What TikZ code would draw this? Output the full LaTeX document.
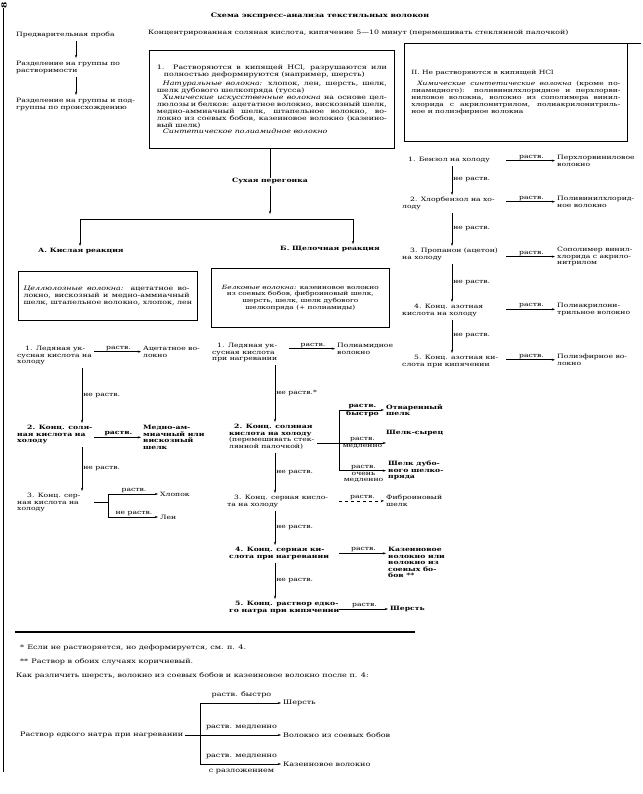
\documentclass[tikz,border=0pt]{standalone}
\usepackage{fontspec}
\setmainfont{DejaVu Serif}[FakeStretch=1.3]
\usetikzlibrary{arrows.meta,positioning,calc}
\newcommand{\txtfont}{\fontsize{5.9}{6.6}\selectfont}
\newcommand{\boxfont}{\fontsize{6.1}{6.9}\selectfont}
\newcommand{\notefont}{\fontsize{6.2}{7}\selectfont}
\newcommand{\jline}[2][230pt]{\makebox[#1][s]{#2}}
\tikzset{
    txt/.style={inner sep=0pt, align=left, font=\txtfont},
    txtb/.style={txt, font=\txtfont\bfseries},
    note/.style={inner sep=0pt, align=left, font=\notefont},
    hdr/.style={inner sep=0pt, font=\txtfont\bfseries},
    box/.style={draw, line width=0.7pt, inner sep=0pt, align=left, font=\boxfont},
    lbl/.style={inner sep=1pt, align=center, font=\txtfont},
    lblb/.style={lbl, font=\txtfont\bfseries},
    arr/.style={line width=0.6pt, -{Stealth[length=3.2pt,width=2.2pt]}},
    link/.style={line width=0.6pt},
}

\begin{document}
\begin{tikzpicture}[x=1pt,y=-1pt]
\useasboundingbox (0,0) rectangle (642,794);

% page edge
\draw[line width=1.2pt] (3.5,8) -- (3.5,772);
\node[rotate=90, inner sep=0pt, font=\fontsize{7}{7}\selectfont\bfseries] (pg) at (4,5) {8};

% heading
\node[inner sep=0pt, font=\fontsize{6.1}{8}\selectfont\bfseries] (title) at (320,16) {Схема экспресс-анализа текстильных волокон};
\node[txt, anchor=west, font=\fontsize{6.0}{7}\selectfont] (sub) at (148,33) {Концентрированная соляная кислота, кипячение 5—10 минут (перемешивать стеклянной палочкой)};

% left column
\coordinate (colP) at (76,0);
\node[txt, anchor=north west] (pre1) at (16,32) {Предварительная проба};
\node[txt, anchor=north west] (pre2) at (16,61) {Разделение на группы по\\растворимости};
\node[txt, anchor=north west] (pre3) at (16,98) {Разделение на группы и под-\\группы по происхождению};
\draw[arr, shorten <=3pt, shorten >=3pt] (pre1.south -| colP) -- (pre2.north -| colP);
\draw[arr, shorten <=3pt, shorten >=3pt] (pre2.south -| colP) -- (pre3.north -| colP);

% the two groups
\node[box, anchor=north west, minimum width=245, minimum height=98] (hclyes) at (149,50) {%
\jline{1. Растворяются в кипящей HCl, разрушаются или}\\
\hspace*{7pt}полностью деформируются (например, шерсть)\\[2.5pt]
\jline{\hspace*{6pt}\textit{Натуральные волокна:} хлопок, лен, шерсть, шелк,}\\
шелк дубового шелкопряда (тусса)\\
\jline{\hspace*{6pt}\textit{Химические искусственные волокна} на основе цел-}\\
\jline{люлозы и белков: ацетатное волокно, вискозный шелк,}\\
\jline{медно-аммиачный шелк, штапельное волокно, во-}\\
\jline{локно из соевых бобов, казеиновое волокно (казеино-}\\
вый шелк)\\
\hspace*{6pt}\textit{Синтетическое полиамидное волокно}};
\draw[line width=1.3pt] (hclyes.south west) -- (hclyes.south east);

\node[box, anchor=north west, minimum width=223, minimum height=98, font=\fontsize{5.8}{6.9}\selectfont] (hclno) at (404,43) {%
II. Не растворяются в кипящей HCl\\[4pt]
\jline[209pt]{\hspace*{6pt}\textit{Химические синтетические волокна} (кроме по-}\\
\jline[209pt]{лиамидного): поливинилхлоридное и перхлорви-}\\
\jline[209pt]{ниловое волокна, волокно из сополимера винил-}\\
\jline[209pt]{хлорида с акрилонитрилом, полиакрилонитриль-}\\
ное и полиэфирное волокна};
\draw[line width=0.9pt] (hclno.north east) -- ++(13,0);

% dry distillation
\node[hdr] (dry) at (270,181) {Сухая перегонка};
\coordinate (lt) at (80,219);
\coordinate (rt) at (353,219);
\draw[link] (hclyes.south -| dry.north) -- (dry.north);
\draw[arr, shorten <=2pt, shorten >=5pt] (dry.south) -- (dry.south |- lt);
\draw[link] (lt) -- (rt);
\node[hdr, anchor=west] (acid) at (38,251) {А. Кислая реакция};
\node[hdr, anchor=west] (alk) at (280,249) {Б. Щелочная реакция};
\draw[arr, shorten >=2pt] (lt) -- (lt |- acid.north);
\draw[arr, shorten >=2pt] (rt) -- (rt |- alk.north);

\node[box, anchor=north west, minimum width=179, minimum height=49] (cell) at (18,271) {%
\jline[166pt]{\textit{Целлюлозные волокна:} ацетатное во-}\\
\jline[166pt]{локно, вискозный и медно-аммиачный}\\
шелк, штапельное волокно, хлопок, лен};
\node[box, anchor=north west, minimum width=178, minimum height=59, align=center, font=\fontsize{5.7}{6.8}\selectfont] (prot) at (211,268) {%
\textit{Белковые волокна:} казеиновое волокно\\
из соевых бобов, фиброиновый шелк,\\
шерсть, шелк, шелк дубового\\
шелкопряда (+ полиамиды)};

% column A
\coordinate (colA) at (82,0);
\coordinate (goA) at (94,0);
\coordinate (fkA) at (108,0);
\node[txt, anchor=north west] (a1) at (17,346) {\hspace*{8pt}1. Ледяная ук-\\сусная кислота на\\холоду};
\node[txt, anchor=north west] (a1r) at (143,346) {Ацетатное во-\\локно};
\draw[arr, shorten >=2pt] (a1r.west -| goA) -- (a1r.west) node[lbl, midway, above] {раств.};

\node[txtb, anchor=north west] (a2) at (17,425) {\hspace*{10pt}2. Конц. соля-\\ная кислота на\\холоду};
\node[txtb, anchor=north west] (a2r) at (143,425) {Медно-ам-\\миачный или\\вискозный\\шелк};
\draw[arr, shorten >=2pt] (a2r.west -| goA) -- (a2r.west) node[lblb, midway, above] {раств.};

\node[txt, anchor=north west] (a3) at (17,493) {\hspace*{10pt}3. Конц. сер-\\ная кислота на\\холоду};
\node[txt, anchor=west] (cotton) at (160,494) {Хлопок};
\node[txt, anchor=west] (flax) at (160,517) {Лен};
\draw[link] (a3.east -| goA) -- (a3.east -| fkA);
\draw[link] (cotton.west -| fkA) -- (flax.west -| fkA);
\draw[arr, shorten >=2pt] (cotton.west -| fkA) -- (cotton.west) node[lbl, midway, above] {раств.};
\draw[arr, shorten >=2pt] (flax.west -| fkA) -- (flax.west) node[lbl, midway, above] {не раств.};

\draw[arr, shorten <=3pt, shorten >=2pt] (a1.south -| colA) -- (a2.north -| colA) node[lbl, midway, right] {не раств.};
\draw[arr, shorten <=3pt, shorten >=2pt] (a2.south -| colA) -- (a3.north -| colA) node[lbl, midway, right] {не раств.};

% column B
\coordinate (colB) at (275,0);
\coordinate (goB) at (289,0);
\coordinate (fkB) at (339,0);
\coordinate (midB) at (0,443);
\node[txt, anchor=north west] (b1) at (212,343) {\hspace*{5pt}1. Ледяная ук-\\сусная кислота\\при нагревании};
\node[txt, anchor=north west] (b1r) at (337,343) {Полиамидное\\волокно};
\draw[arr, shorten >=2pt] (b1r.west -| goB) -- (b1r.west) node[lbl, midway, above] {раств.};

\node[txt, anchor=north west] (b2) at (229,424) {\hspace*{5pt}\textbf{2. Конц. соляная}\\\textbf{кислота на холоду}\\(перемешивать стек-\\лянной палочкой)};
\node[txtb, anchor=north west] (boiled) at (386,404) {Отваренный\\шелк};
\node[txtb, anchor=west] (raw) at (386,433) {Шелк-сырец};
\node[txtb, anchor=north west] (oak) at (388,461) {Шелк дубо-\\вого шелко-\\пряда};
\node[txt, anchor=north west] (fibro) at (386,495) {Фиброиновый\\шелк};
\draw[link] (boiled.west -| fkB) -- (oak.west -| fkB);
\draw[arr, shorten >=2pt] (boiled.west -| fkB) -- (boiled.west)
    node[lblb, midway, above] {раств.} node[lblb, midway, below] {быстро};
\draw[arr, shorten <=3pt] (b2.east |- midB) -- (raw.west |- midB);
\path (midB -| fkB) -- (midB -| raw.west)
    node[lbl, midway, above] {раств.} node[lbl, midway, below] {медленно};
\draw[arr, shorten >=2pt] (oak.west -| fkB) -- (oak.west)
    node[lbl, midway, above] {раств.} node[lbl, midway, below] {очень\\медленно};
\draw[arr, dashed, shorten >=2pt] (fibro.west -| fkB) -- (fibro.west) node[lbl, midway, above] {раств.};

\node[txt, anchor=north west] (b3) at (227,495) {\hspace*{7pt}3. Конц. серная кисло-\\та на холоду};
\node[txtb, anchor=north west] (b4) at (229,547) {\hspace*{6pt}4. Конц. серная ки-\\слота при нагревании};
\node[txtb, anchor=north west] (casein) at (388,547) {Казеиновое\\волокно или\\волокно из\\соевых бо-\\бов **};
\draw[arr, shorten >=2pt] (b4.east -| fkB) -- (b4.east -| casein.west) node[lbl, midway, above] {раств.};
\node[txtb, anchor=north west] (b5) at (229,601) {\hspace*{6pt}5. Конц. раствор едко-\\го натра при кипячении};
\node[txtb, anchor=west] (wool) at (390,609) {Шерсть};
\draw[arr, shorten >=2pt] (wool.west -| fkB) -- (wool.west) node[lbl, midway, above] {раств.};

\draw[arr, shorten <=3pt, shorten >=2pt] (b1.south -| colB) -- (b2.north -| colB) node[lbl, midway, right] {не раств.*};
\draw[arr, shorten <=3pt, shorten >=2pt] (b2.south -| colB) -- (b3.north -| colB) node[lbl, midway, right] {не раств.};
\draw[arr, shorten <=3pt, shorten >=2pt] (b3.south -| colB) -- (b4.north -| colB) node[lbl, midway, right] {не раств.};
\draw[arr, shorten <=3pt, shorten >=2pt] (b4.south -| colB) -- (b5.north -| colB) node[lbl, midway, right] {не раств.};

% column of group II
\coordinate (colR) at (452,0);
\coordinate (goR) at (506,0);
\node[txt, anchor=west] (r1) at (408,160) {1. Бензол на холоду};
\node[txt, anchor=north west] (t1) at (557,155) {Перхлорвиниловое\\волокно};
\node[txt, anchor=north west] (r2) at (402,197) {\hspace*{8pt}2. Хлорбензол на хо-\\лоду};
\node[txt, anchor=north west] (t2) at (557,196) {Поливинилхлорид-\\ное волокно};
\node[txt, anchor=north west] (r3) at (402,248) {\hspace*{8pt}3. Пропанон (ацетон)\\на холоду};
\node[txt, anchor=north west] (t3) at (557,247) {Сополимер винил-\\хлорида с акрило-\\нитрилом};
\node[txt, anchor=north west] (r4) at (402,304) {\hspace*{12pt}4. Конц. азотная\\кислота на холоду};
\node[txt, anchor=north west] (t4) at (557,303) {Полиакрилони-\\трильное волокно};
\node[txt, anchor=north west] (r5) at (402,355) {\hspace*{12pt}5. Конц. азотная ки-\\слота при кипячении};
\node[txt, anchor=north west] (t5) at (557,354) {Полиэфирное во-\\локно};
\foreach \t in {t1,t2,t3,t4,t5}
    \draw[arr, shorten >=2pt] (\t.west -| goR) -- (\t.west) node[lbl, midway, above] {раств.};
\foreach \a/\b in {r1/r2,r2/r3,r3/r4,r4/r5}
    \draw[arr, shorten <=3pt, shorten >=2pt] (\a.south -| colR) -- (\b.north -| colR) node[lbl, midway, right] {не раств.};

% footnotes
\draw[line width=1.6pt] (15,632) -- (415,632);
\node[note, anchor=west] (fn1) at (20,648) {*\enspace Если не растворяется, но деформируется, см. п. 4.};
\node[note, anchor=west] (fn2) at (20,662) {**\enspace Раствор в обоих случаях коричневый.};
\node[note, anchor=west] (fn3) at (16,676) {Как различить шерсть, волокно из соевых бобов и казеиновое волокно после п. 4:};

% wool, soy and casein
\coordinate (fkN) at (200,0);
\node[note, anchor=west] (naoh) at (20,735) {Раствор едкого натра при нагревании};
\node[note, anchor=west] (wool2) at (283,703) {Шерсть};
\node[note, anchor=west] (soy) at (283,735) {Волокно из соевых бобов};
\node[note, anchor=west] (cas2) at (283,764) {Казеиновое волокно};
\draw[arr, shorten <=2pt, shorten >=2pt] (naoh.east) -- (soy.west);
\draw[link] (wool2.west -| fkN) -- (cas2.west -| fkN);
\draw[arr, shorten >=2pt] (wool2.west -| fkN) -- (wool2.west) node[lbl, font=\notefont, midway, above=4pt] {раств. быстро};
\path (soy.west -| fkN) -- (soy.west) node[lbl, font=\notefont, midway, above=4pt] {раств. медленно};
\draw[arr, shorten >=2pt] (cas2.west -| fkN) -- (cas2.west)
    node[lbl, font=\notefont, midway, above=4pt] {раств. медленно} node[lbl, font=\notefont, midway, below=4pt] {с разложением};
\end{tikzpicture}
\end{document}
